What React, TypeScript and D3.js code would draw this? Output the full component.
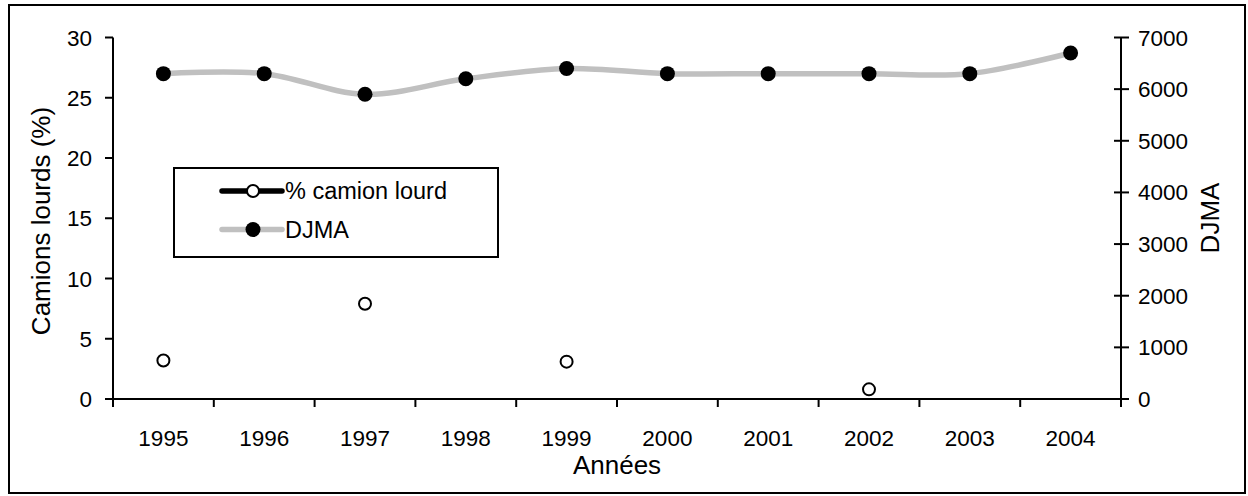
import React from "react";
import * as d3 from "d3";

const years = ["1995", "1996", "1997", "1998", "1999", "2000", "2001", "2002", "2003", "2004"];
const pctHeavy: (number | null)[] = [3.2, null, 7.9, null, 3.1, null, null, 0.8, null, null];
const djma: number[] = [6300, 6300, 5900, 6200, 6400, 6300, 6300, 6300, 6300, 6700];
const leftTicks = [0, 5, 10, 15, 20, 25, 30];
const rightTicks = [0, 1000, 2000, 3000, 4000, 5000, 6000, 7000];

const W = 1248;
const H = 496;
const plot = { left: 113, right: 1121, top: 37.5, bottom: 399 };
const FONT = "'Liberation Sans', Arial, sans-serif";
const FS_TICK = 22.5;
const FS_TITLE = 26;
const FS_LEG = 23.5;

export default function App() {
  const x = d3.scaleBand<string>().domain(years).range([plot.left, plot.right]);
  const yL = d3.scaleLinear().domain([0, 30]).range([plot.bottom, plot.top]);
  const yR = d3.scaleLinear().domain([0, 7000]).range([plot.bottom, plot.top]);
  const cx = (y: string) => (x(y) as number) + x.bandwidth() / 2;

  const line = d3
    .line<number>()
    .x((_, i) => cx(years[i]))
    .y((d) => yR(d))
    .curve(d3.curveCardinal.tension(0));

  const boundaries = years.map((y) => x(y) as number).concat([plot.right]);

  return (
    <svg width={W} height={H} style={{ position: "absolute", left: 0, top: 0, background: "#fff" }} fontFamily={FONT}>
      <rect x={9} y={5} width={1236} height={488} fill="#fff" stroke="#000" strokeWidth={2} />

      {/* DJMA line */}
      <path d={line(djma) || ""} fill="none" stroke="#c0c0c0" strokeWidth={5.5} />
      {djma.map((d, i) => (
        <circle key={"d" + i} cx={cx(years[i])} cy={yR(d)} r={7.5} fill="#000" />
      ))}

      {/* % heavy trucks */}
      {pctHeavy.map((p, i) =>
        p == null ? null : (
          <circle key={"p" + i} cx={cx(years[i])} cy={yL(p)} r={6} fill="#fff" stroke="#000" strokeWidth={2} />
        )
      )}

      {/* Left axis */}
      <line x1={plot.left} x2={plot.left} y1={plot.top} y2={plot.bottom} stroke="#000" strokeWidth={2} />
      {leftTicks.map((t) => (
        <g key={"l" + t}>
          <line x1={plot.left - 8} x2={plot.left} y1={yL(t)} y2={yL(t)} stroke="#000" strokeWidth={2} />
          <text x={plot.left - 21} y={yL(t) + 8} textAnchor="end" fontSize={FS_TICK}>
            {t}
          </text>
        </g>
      ))}

      {/* Right axis */}
      <line x1={plot.right} x2={plot.right} y1={plot.top} y2={plot.bottom} stroke="#000" strokeWidth={2} />
      {rightTicks.map((t) => (
        <g key={"r" + t}>
          <line x1={plot.right - 7} x2={plot.right + 8} y1={yR(t)} y2={yR(t)} stroke="#000" strokeWidth={2} />
          <text x={plot.right + 17} y={yR(t) + 8} textAnchor="start" fontSize={FS_TICK}>
            {t}
          </text>
        </g>
      ))}

      {/* X axis */}
      <line x1={plot.left - 8} x2={plot.right + 8} y1={plot.bottom} y2={plot.bottom} stroke="#000" strokeWidth={2} />
      {boundaries.map((b, i) => (
        <line key={"xt" + i} x1={b} x2={b} y1={plot.bottom} y2={plot.bottom + 8} stroke="#000" strokeWidth={2} />
      ))}
      {years.map((y) => (
        <text key={"xl" + y} x={cx(y)} y={446} textAnchor="middle" fontSize={FS_TICK}>
          {y}
        </text>
      ))}

      {/* Axis titles */}
      <text x={617} y={474} textAnchor="middle" fontSize={FS_TITLE}>
        Années
      </text>
      <text
        transform={`translate(50, 221) rotate(-90)`}
        textAnchor="middle"
        fontSize={FS_TITLE}
      >
        Camions lourds (%)
      </text>
      <text
        transform={`translate(1219, 218) rotate(-90)`}
        textAnchor="middle"
        fontSize={FS_TITLE}
      >
        DJMA
      </text>

      {/* Legend */}
      <rect x={174} y={168} width={324} height={89} fill="#fff" stroke="#000" strokeWidth={2} />
      <line x1={222} x2={282} y1={191} y2={191} stroke="#000" strokeWidth={5.5} strokeLinecap="round" />
      <circle cx={253} cy={191} r={6} fill="#fff" stroke="#000" strokeWidth={2} />
      <text x={285} y={199} fontSize={FS_LEG}>
        % camion lourd
      </text>
      <line x1={222} x2={282} y1={229.5} y2={229.5} stroke="#c0c0c0" strokeWidth={5.5} strokeLinecap="round" />
      <circle cx={253} cy={229.5} r={7.5} fill="#000" />
      <text x={285} y={238} fontSize={FS_LEG}>
        DJMA
      </text>
    </svg>
  );
}
